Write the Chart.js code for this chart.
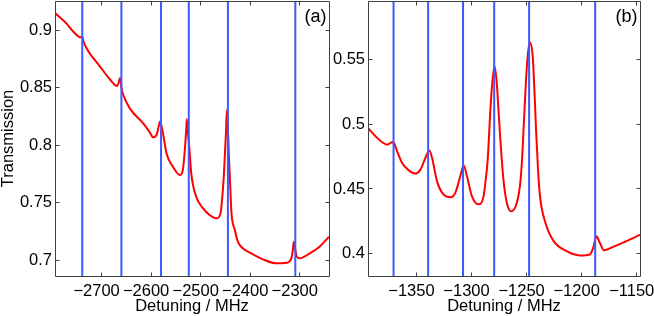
<!DOCTYPE html>
<html>
<head>
<meta charset="utf-8">
<script src="https://cdn.jsdelivr.net/npm/chart.js@4.4.1/dist/chart.umd.min.js"></script>
<style>
	html, body { margin: 0; padding: 0; background: #fff; }
	#wrap { position: relative; width: 654px; height: 316px; }
	canvas { position: absolute; top: 0; }
	#chartA { left: 0; }
	#chartB { left: 330px; }
</style>
</head>
<body>
<div id="wrap">
	<canvas id="chartA" width="330" height="316"></canvas>
	<canvas id="chartB" width="324" height="316"></canvas>
</div>
<script>
// Panel (a)
const leftDetuning = [-2793, -2771, -2757, -2747, -2742, -2739, -2737, -2730, -2703, -2687,
	-2673, -2669, -2665, -2663, -2661, -2660, -2656, -2643, -2616, -2603,
	-2596, -2589, -2585, -2582, -2579, -2576, -2569, -2556, -2542, -2536,
	-2532, -2529, -2528, -2526, -2523, -2519, -2509, -2495, -2482, -2468,
	-2460, -2456, -2453, -2449, -2447, -2445, -2443, -2440, -2438, -2431,
	-2425, -2415, -2394, -2374, -2347, -2327, -2317, -2314, -2312, -2309,
	-2306, -2300, -2280, -2260, -2241];
const leftTransmission = [0.9146, 0.9061, 0.8988, 0.8948, 0.8939, 0.8949, 0.8911, 0.8842, 0.8684, 0.8594,
	0.8525, 0.8516, 0.8551, 0.8586, 0.8551, 0.8505, 0.8438, 0.8322, 0.8192, 0.8116,
	0.8070, 0.8090, 0.8160, 0.8207, 0.8168, 0.8105, 0.7931, 0.7815, 0.7743, 0.7786,
	0.7960, 0.8151, 0.8227, 0.8116, 0.7989, 0.7757, 0.7554, 0.7453, 0.7395, 0.7366,
	0.7410, 0.7569, 0.7757, 0.8105, 0.8307, 0.8134, 0.7902, 0.7612, 0.7421, 0.7265,
	0.7163, 0.7106, 0.7053, 0.7010, 0.6975, 0.6980, 0.7019, 0.7091, 0.7163, 0.7091,
	0.7033, 0.7019, 0.7062, 0.7120, 0.7206];
const leftResonances = [-2739, -2660, -2580, -2524, -2445, -2309];
const leftXTicks = [-2700, -2600, -2500, -2400, -2300];
const leftYTicks = [0.7, 0.75, 0.8, 0.85, 0.9];

// Panel (b)
const rightDetuning = [-1394, -1387, -1381, -1376.5, -1372, -1370.5, -1367.5, -1363, -1357, -1351,
	-1346.4, -1341.9, -1338.2, -1335.8, -1331.3, -1325.3, -1319.2, -1314.7, -1310.2, -1307.2,
	-1304.1, -1299.6, -1293.6, -1289.1, -1287.1, -1285.3, -1282.6, -1280.6, -1279.1, -1277.3,
	-1275.5, -1274, -1271, -1267.9, -1264, -1258.9, -1255.9, -1254.3, -1252.3, -1250.5,
	-1248.6, -1246.8, -1244.4, -1242.9, -1241.4, -1239.6, -1237.8, -1233.3, -1225.7, -1213.6,
	-1201.6, -1192.5, -1189.5, -1186.5, -1183.5, -1179.9, -1171.4, -1159.3, -1147];
const rightTransmission = [0.4972, 0.4907, 0.4861, 0.4843, 0.4861, 0.4856, 0.4791, 0.4701, 0.4644, 0.4619,
	0.4650, 0.4740, 0.4799, 0.4740, 0.4559, 0.4456, 0.4436, 0.4470, 0.4598, 0.4683,
	0.4598, 0.4443, 0.4381, 0.4441, 0.4572, 0.4727, 0.5152, 0.5369, 0.5450, 0.5345,
	0.5113, 0.4907, 0.4572, 0.4392, 0.4327, 0.4392, 0.4534, 0.4701, 0.5036, 0.5345,
	0.5562, 0.5634, 0.5526, 0.5268, 0.4959, 0.4650, 0.4443, 0.4250, 0.4100, 0.4018,
	0.3985, 0.3993, 0.4044, 0.4134, 0.4083, 0.4026, 0.4052, 0.4096, 0.4147];
const rightResonances = [-1370.8, -1339.4, -1307.7, -1279.4, -1247.7, -1187.7];
const rightXTicks = [-1350, -1300, -1250, -1200, -1150];
const rightYTicks = [0.4, 0.45, 0.5, 0.55];

const FONT = '"Liberation Sans", Arial, Helvetica, sans-serif';
const FONT_SIZE = 16.5;
const RED = '#ff0000';
const BLUE = '#3b5bff';
const AXIS = '#404040';

function formatTick(v) {
	return v < 0 ? '\u2212' + Math.abs(v) : String(v);
}

// box around the plot area with inward ticks on all four sides, plus panel letter
const framePlugin = {
	id: 'frame',
	afterDatasetsDraw(chart, args, opts) {
		const ctx = chart.ctx;
		const a = chart.chartArea;
		const xs = chart.scales.x;
		const ys = chart.scales.y;
		const L = Math.floor(a.left) + 0.5;
		const R = Math.floor(a.right) + 0.5;
		const T = Math.floor(a.top) + 0.5;
		const B = Math.floor(a.bottom) + 0.5;
		const len = 4;

		ctx.save();
		ctx.strokeStyle = AXIS;
		ctx.lineWidth = 1;
		ctx.beginPath();
		ctx.rect(L, T, R - L, B - T);
		for (let t of xs.ticks) {
			let px = Math.floor(xs.getPixelForValue(t.value)) + 0.5;
			ctx.moveTo(px, B); ctx.lineTo(px, B - len);
			ctx.moveTo(px, T); ctx.lineTo(px, T + len);
		}
		for (let t of ys.ticks) {
			let py = Math.floor(ys.getPixelForValue(t.value)) + 0.5;
			ctx.moveTo(L, py); ctx.lineTo(L + len, py);
			ctx.moveTo(R, py); ctx.lineTo(R - len, py);
		}
		ctx.stroke();

		ctx.fillStyle = '#000';
		ctx.font = '18px ' + FONT;
		ctx.textAlign = 'right';
		ctx.textBaseline = 'alphabetic';
		ctx.fillText(opts.letter, a.right - 2.5, a.top + 21);
		ctx.restore();
	}
};

function makePanel(canvasId, cfg) {
	let datasets = [];
	// vertical resonance markers first so they sit on top
	for (let v of cfg.resonances) {
		datasets.push({
			data: [{x: v, y: cfg.yMin}, {x: v, y: cfg.yMax}],
			borderColor: BLUE,
			borderWidth: 2,
			pointRadius: 0,
			showLine: true,
		});
	}
	let curve = [];
	for (let i = 0; i < cfg.detuning.length; i++) {
		curve.push({x: cfg.detuning[i], y: cfg.transmission[i]});
	}
	datasets.push({
		data: curve,
		borderColor: RED,
		borderWidth: 2,
		pointRadius: 0,
		showLine: true,
		cubicInterpolationMode: 'monotone',
	});

	const ctx = document.getElementById(canvasId);
	new Chart(ctx, {
		type: 'scatter',
		data: { datasets: datasets },
		plugins: [framePlugin],
		options: {
			responsive: false,
			animation: false,
			layout: { padding: { left: 0, right: cfg.padRight, top: 1, bottom: 0 } },
			plugins: {
				legend: { display: false },
				tooltip: { enabled: false },
				frame: { letter: cfg.letter },
			},
			scales: {
				x: {
					type: 'linear',
					min: cfg.xMin,
					max: cfg.xMax,
					grid: { display: false, drawTicks: false },
					border: { display: false },
					ticks: {
						color: '#000',
						font: { family: FONT, size: FONT_SIZE },
						padding: 6,
						labelOffset: -5,
						maxRotation: 0,
						autoSkip: false,
						callback: formatTick,
					},
					afterBuildTicks: (s) => { s.ticks = cfg.xTicks.map(v => ({ value: v })); },
					afterFit: (s) => { s.height = 40; s.paddingLeft = 0; s.paddingRight = 0; },
					title: {
						display: true,
						text: 'Detuning / MHz',
						color: '#000',
						font: { family: FONT, size: FONT_SIZE },
						padding: { top: 0, bottom: 0 },
					},
				},
				y: {
					type: 'linear',
					min: cfg.yMin,
					max: cfg.yMax,
					grid: { display: false, drawTicks: false },
					border: { display: false },
					ticks: {
						color: '#000',
						font: { family: FONT, size: FONT_SIZE },
						padding: 3,
						autoSkip: false,
						callback: formatTick,
					},
					afterBuildTicks: (s) => { s.ticks = cfg.yTicks.map(v => ({ value: v })); },
					afterFit: (s) => { s.width = cfg.yWidth; s.paddingTop = 0; s.paddingBottom = 0; },
					title: {
						display: !!cfg.yTitle,
						text: cfg.yTitle || '',
						color: '#000',
						font: { family: FONT, size: FONT_SIZE, lineHeight: 1 },
						padding: 0,
					},
				},
			},
		},
	});
}

makePanel('chartA', {
	letter: '(a)',
	detuning: leftDetuning,
	transmission: leftTransmission,
	resonances: leftResonances,
	xTicks: leftXTicks,
	yTicks: leftYTicks,
	xMin: -2794, xMax: -2241,
	yMin: 0.6865, yMax: 0.9255,
	yWidth: 55,
	padRight: 1,
	yTitle: 'Transmission',
});

makePanel('chartB', {
	letter: '(b)',
	detuning: rightDetuning,
	transmission: rightTransmission,
	resonances: rightResonances,
	xTicks: rightXTicks,
	yTicks: rightYTicks,
	xMin: -1394, xMax: -1147,
	yMin: 0.3826, yMax: 0.5956,
	yWidth: 38,
	padRight: 14,
});
</script>
</body>
</html>
